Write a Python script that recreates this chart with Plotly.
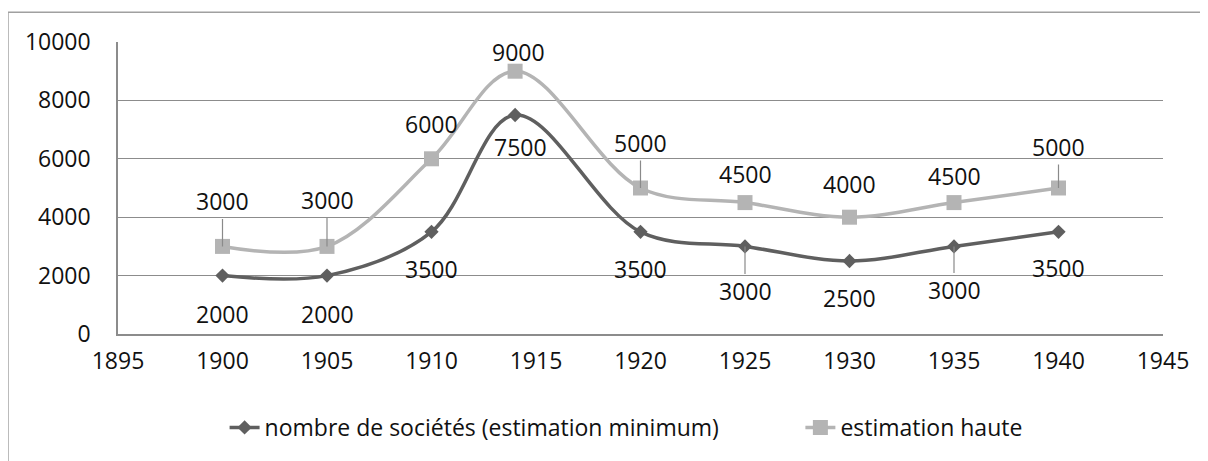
import plotly.graph_objects as go

# data
years = [1900, 1905, 1910, 1914, 1920, 1925, 1930, 1935, 1940]
societes_min = [2000, 2000, 3500, 7500, 3500, 3000, 2500, 3000, 3500]
estimation_haute = [3000, 3000, 6000, 9000, 5000, 4500, 4000, 4500, 5000]

name_min = "nombre de sociétés (estimation minimum)"
name_haute = "estimation haute"

# label placement (pixel offsets from the point) and leader-line flags
off_min = [(0, 38), (0, 38), (0, 37), (5, 32), (0, 37), (0, 45), (0, 37), (0, 44), (0, 36)]
lead_min = [False, False, False, False, False, True, False, True, False]
off_haute = [(0, -45), (0, -46), (0, -35), (3, -19), (0, -45), (0, -29), (0, -33), (0, -27), (0, -41)]
lead_haute = [True, True, False, False, True, False, False, False, True]

dark = "#5f5f5f"
light = "#b4b4b4"
font = "Open Sans"
txt = "#111111"
fsize = 23

fig = go.Figure()
fig.add_trace(go.Scatter(
    x=years, y=societes_min, name=name_min, mode="lines+markers", legend="legend",
    line=dict(color=dark, width=3.5, shape="spline", smoothing=1),
    marker=dict(symbol="diamond", size=11, color=dark),
))
fig.add_trace(go.Scatter(
    x=years, y=estimation_haute, name=name_haute, mode="lines+markers", legend="legend2",
    line=dict(color=light, width=3.5, shape="spline", smoothing=1),
    marker=dict(symbol="square", size=15, color=light),
))

annotations = []
for vals, offs, leads in [(societes_min, off_min, lead_min), (estimation_haute, off_haute, lead_haute)]:
    for x, y, (dx, dy), lead in zip(years, vals, offs, leads):
        if lead:
            annotations.append(dict(
                x=x, y=y, text=str(y), showarrow=True, arrowhead=0, arrowwidth=1.2,
                arrowcolor="#8a8a8a", ax=dx, ay=dy, standoff=0,
                font=dict(family=font, size=fsize, color=txt),
            ))
        else:
            annotations.append(dict(
                x=x, y=y, text=str(y), showarrow=False, xshift=dx, yshift=-dy,
                font=dict(family=font, size=fsize, color=txt),
            ))

legend_style = dict(orientation="h", yanchor="middle", y=-0.32, xanchor="left",
                    font=dict(family=font, size=fsize, color=txt), bgcolor="rgba(0,0,0,0)")

# page body has an 8px margin, so the figure is 8px smaller and shifted
fig.update_layout(
    width=1200, height=453,
    margin=dict(l=110, r=45, t=34, b=123),
    paper_bgcolor="white", plot_bgcolor="white",
    font=dict(family=font, size=fsize, color=txt),
    showlegend=True,
    legend=dict(x=0.102, **legend_style),
    legend2=dict(x=0.653, **legend_style),
    annotations=annotations,
    shapes=[dict(type="rect", xref="paper", yref="paper",
                 x0=-0.1053, x1=1.2, y0=-0.6, y1=1.1017,
                 line=dict(color="#a0a0a0", width=1.5), layer="below")],
)
fig.update_xaxes(range=[1895, 1945], dtick=5, tick0=1895, showgrid=False,
                 showline=True, linecolor="#8c8c8c", linewidth=1.5, zeroline=False,
                 ticks="", ticklabelstandoff=6, tickformat="d")
fig.update_yaxes(range=[0, 10000], dtick=2000, showgrid=True, gridcolor="#8c8c8c", gridwidth=1,
                 showline=True, linecolor="#8c8c8c", linewidth=1.5, zeroline=False,
                 ticks="", ticklabelstandoff=21, tickformat="d")

fig.write_html("out.html")
